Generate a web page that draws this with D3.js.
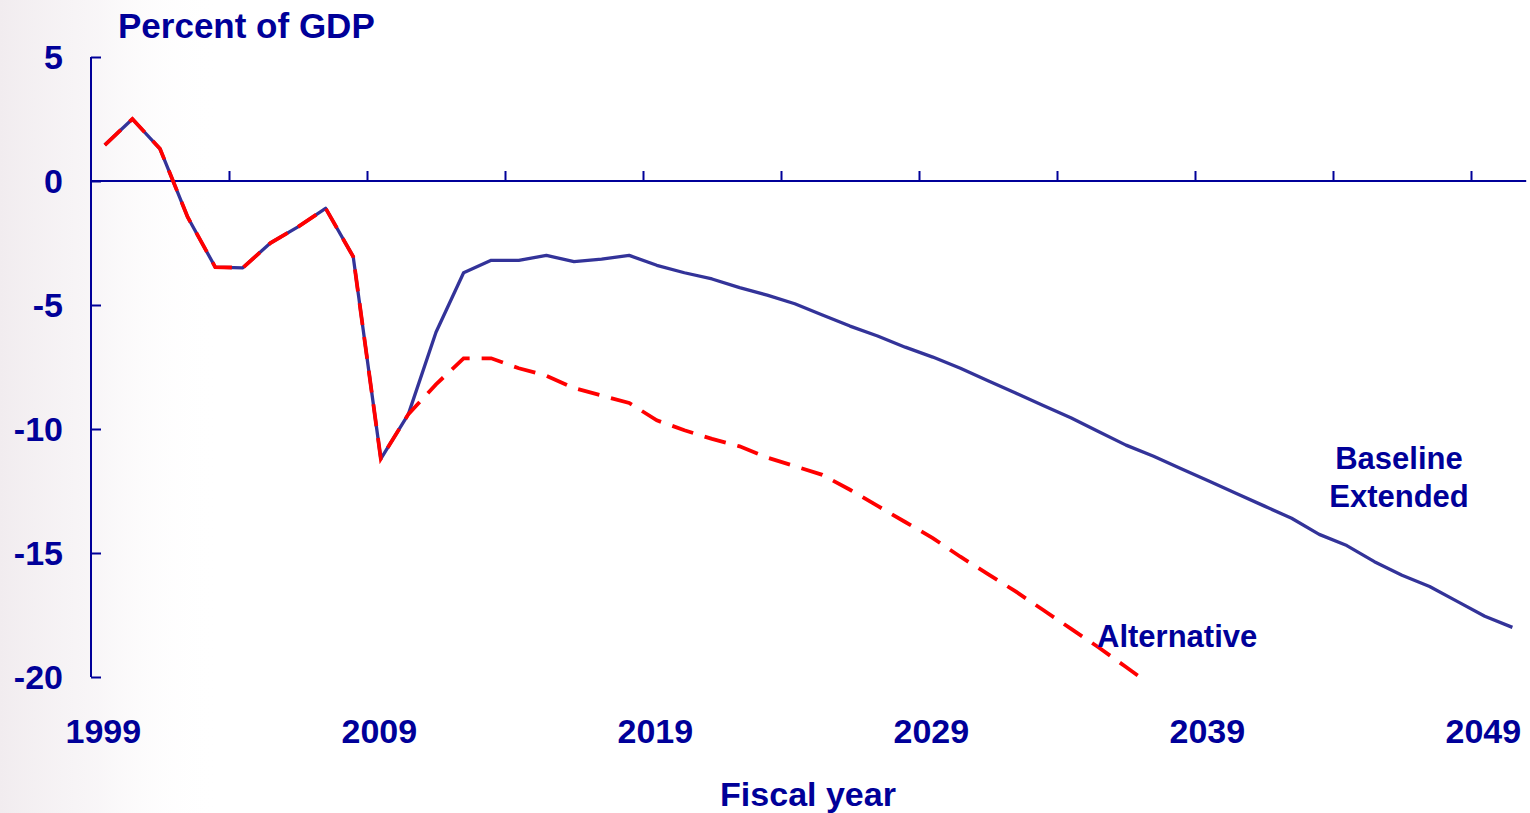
<!DOCTYPE html>
<html>
<head>
<meta charset="utf-8">
<script src="https://cdn.jsdelivr.net/npm/d3@7"></script>
<style>
  html, body { margin: 0; padding: 0; background: #fff; }
  svg { display: block; }
  text { font-family: "Liberation Sans", Arial, Helvetica, sans-serif; font-weight: bold; fill: #000099; }
</style>
</head>
<body>
<svg id="chart" width="1530" height="813"></svg>
<script>
// Fiscal years covered by the projections
const years = d3.range(1999, 2051);

// Deficit (-) / surplus (+), percent of GDP — baseline extended
const baselineValues = [
  1.45, 2.5, 1.3, -1.45, -3.47, -3.5, -2.5, -1.85, -1.1, -3.05,
  -11.2, -9.4, -6.1, -3.7, -3.2, -3.2, -3.0, -3.25, -3.15, -3.0,
  -3.4, -3.7, -3.95, -4.3, -4.6, -4.95, -5.4, -5.85, -6.25, -6.7,
  -7.1, -7.55, -8.05, -8.55, -9.05, -9.55, -10.1, -10.65, -11.1, -11.6,
  -12.1, -12.6, -13.1, -13.6, -14.25, -14.7, -15.35, -15.9, -16.35, -16.95,
  -17.55, -18.0
];

// Alternative fiscal scenario (1999–2037)
const alternativeValues = [
  1.45, 2.5, 1.3, -1.45, -3.47, -3.5, -2.5, -1.85, -1.1, -3.05,
  -11.2, -9.4, -8.2, -7.15, -7.15, -7.55, -7.85, -8.35, -8.65, -8.95,
  -9.65, -10.05, -10.4, -10.7, -11.15, -11.5, -11.85, -12.45, -13.1, -13.75,
  -14.4, -15.15, -15.85, -16.55, -17.3, -18.05, -18.8, -19.6, -20.4
];

const yTickValues = [5, 0, -5, -10, -15, -20];
const xLabelYears = [1999, 2009, 2019, 2029, 2039, 2049];
const xTickYears = d3.range(2003.5, 2050, 5);

const baseline = years.map((yr, i) => ({ year: yr, value: baselineValues[i] }));
const alternative = alternativeValues.map((v, i) => ({ year: years[i], value: v }));

const W = 1530, H = 813;
const navy = "#000099";

const svg = d3.select("#chart");

// faint shading along the left edge of the slide
const defs = svg.append("defs");
const grad = defs.append("linearGradient").attr("id", "edgeShade")
  .attr("x1", "0").attr("y1", "0").attr("x2", "1").attr("y2", "0");
grad.append("stop").attr("offset", "0").attr("stop-color", "#f1ecef").attr("stop-opacity", 1);
grad.append("stop").attr("offset", "0.45").attr("stop-color", "#f7f4f6").attr("stop-opacity", 0.8);
grad.append("stop").attr("offset", "1").attr("stop-color", "#ffffff").attr("stop-opacity", 0);
svg.append("rect").attr("width", W).attr("height", H).attr("fill", "#fff");
svg.append("rect").attr("x", 0).attr("y", 0).attr("width", 220).attr("height", H)
  .attr("fill", "url(#edgeShade)");

const x = d3.scaleLinear().domain([1998.5, 2050.5]).range([91, 1526.2]);
const y = d3.scaleLinear().domain([-20, 5]).range([677, 57]);

defs.append("clipPath").attr("id", "plotClip")
  .append("rect")
  .attr("x", x(1998.5)).attr("y", y(5) - 5)
  .attr("width", x(2050.5) - x(1998.5)).attr("height", y(-20) - y(5) + 6.5);

// vertical axis with inward ticks
const yAxis = d3.axisRight(y).tickValues(yTickValues).tickSize(10).tickFormat("");
const yAxisG = svg.append("g").attr("transform", `translate(${x(1998.5)},0)`).call(yAxis);
yAxisG.select(".domain").attr("d", `M0,${y(5)}V${y(-20)}`)
  .attr("stroke", navy).attr("stroke-width", 2).attr("fill", "none");
yAxisG.selectAll(".tick line").attr("stroke", navy).attr("stroke-width", 2);

// y tick labels
svg.append("g").selectAll("text").data(yTickValues).join("text")
  .attr("x", 63).attr("y", d => y(d)).attr("dy", "0.36em")
  .attr("text-anchor", "end").style("font-size", "34px")
  .text(d => d);

// zero line acting as the horizontal axis, ticks pointing up
const xAxis = d3.axisTop(x).tickValues(xTickYears).tickSize(10).tickFormat("");
const xAxisG = svg.append("g").attr("transform", `translate(0,${y(0)})`).call(xAxis);
xAxisG.select(".domain").attr("d", `M${x(1998.5)},0H${x(2050.5)}`)
  .attr("stroke", navy).attr("stroke-width", 2).attr("fill", "none");
xAxisG.selectAll(".tick line").attr("stroke", navy).attr("stroke-width", 2);

// year labels under the plot
svg.append("g").selectAll("text").data(xLabelYears).join("text")
  .attr("x", d => x(d) - 1.5).attr("y", 743)
  .attr("text-anchor", "middle").style("font-size", "34px")
  .text(d => d);

const line = d3.line().x(d => x(d.year)).y(d => y(d.value));

const plot = svg.append("g").attr("clip-path", "url(#plotClip)");

plot.append("path").datum(baseline)
  .attr("d", line)
  .attr("fill", "none").attr("stroke", "#333399")
  .attr("stroke-width", 3.3).attr("stroke-linejoin", "round");

plot.append("path").datum(alternative)
  .attr("d", line)
  .attr("fill", "none").attr("stroke", "#ff0000")
  .attr("stroke-width", 3.8).attr("stroke-dasharray", "22,12");

// titles
svg.append("text").attr("x", 118).attr("y", 38)
  .style("font-size", "35px").text("Percent of GDP");

svg.append("text").attr("x", 808).attr("y", 806)
  .attr("text-anchor", "middle").style("font-size", "34px").text("Fiscal year");

// series labels
svg.append("text").attr("x", 1399).attr("y", 469)
  .attr("text-anchor", "middle").style("font-size", "31px").text("Baseline");
svg.append("text").attr("x", 1399).attr("y", 507)
  .attr("text-anchor", "middle").style("font-size", "31px").text("Extended");
svg.append("text").attr("x", 1097).attr("y", 647)
  .style("font-size", "31px").text("Alternative");
</script>
</body>
</html>
